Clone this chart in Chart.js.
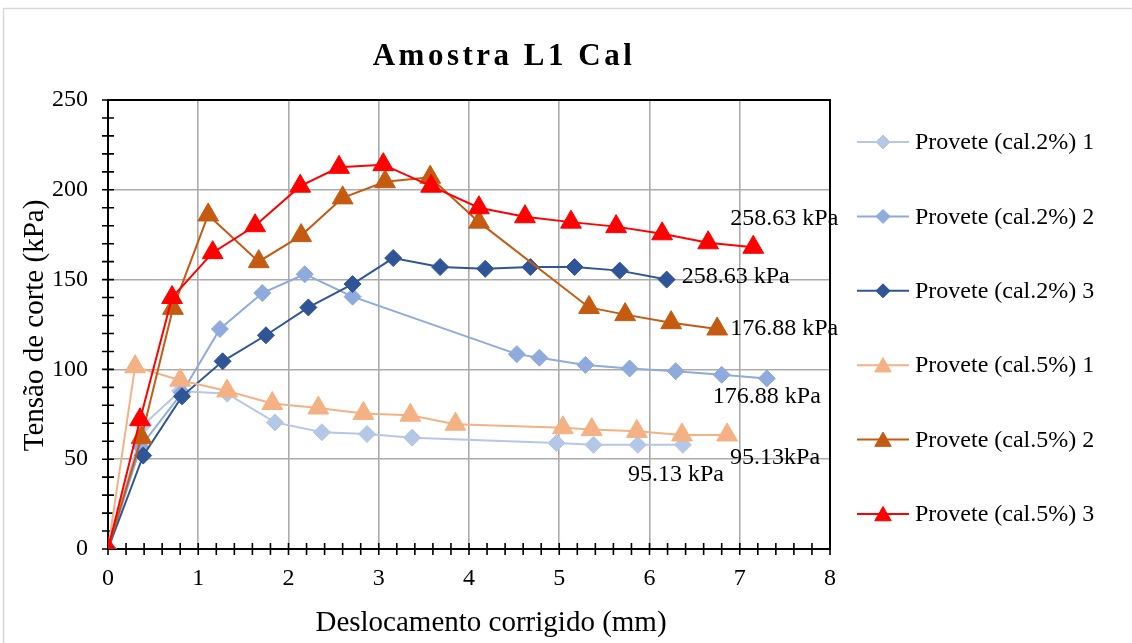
<!DOCTYPE html>
<html>
<head>
<meta charset="utf-8">
<script src="https://cdn.jsdelivr.net/npm/chart.js@4.4.1/dist/chart.umd.min.js"></script>
<style>
  html, body { margin: 0; padding: 0; background: #fff; }
  #wrap { width: 1132px; height: 643px; }
</style>
</head>
<body>
<div id="wrap"><canvas id="c" width="1132" height="643"></canvas></div>
<script>
const SERIF = "'Liberation Serif', 'Times New Roman', serif";

const chartTitle = 'Amostra L1 Cal';
const xAxisTitle = 'Deslocamento corrigido (mm)';
const yAxisTitle = 'Tensão de corte (kPa)';

const seriesNames = [
  'Provete (cal.2%) 1', 'Provete (cal.2%) 2', 'Provete (cal.2%) 3',
  'Provete (cal.5%) 1', 'Provete (cal.5%) 2', 'Provete (cal.5%) 3'
];
// normal stress written next to the last point of each test
const normalStress = ['95.13 kPa', '176.88 kPa', '258.63 kPa', '95.13kPa', '176.88 kPa', '258.63 kPa'];

// displacement (mm) / shear stress (kPa)
const cal2_1X = [0, 0.39, 0.80, 1.32, 1.85, 2.37, 2.87, 3.37, 4.97, 5.38, 5.87, 6.37];
const cal2_1Y = [0, 69, 88, 86.5, 70.5, 65, 64, 62, 59, 58, 58, 58];

const cal2_2X = [0, 0.36, 0.82, 1.24, 1.71, 2.18, 2.71, 4.53, 4.78, 5.29, 5.78, 6.29, 6.80, 7.30];
const cal2_2Y = [0, 57, 87, 122.5, 142.5, 153, 140.5, 108.5, 106.5, 102.5, 100.5, 99, 97, 95];

const cal2_3X = [0, 0.39, 0.82, 1.27, 1.75, 2.22, 2.71, 3.16, 3.68, 4.18, 4.68, 5.17, 5.67, 6.19];
const cal2_3Y = [0, 52, 85, 104.5, 119, 134.5, 147.5, 162, 157, 156, 157, 157, 155, 150];

const cal5_1X = [0, 0.30, 0.80, 1.32, 1.82, 2.33, 2.83, 3.35, 3.85, 5.04, 5.36, 5.86, 6.36, 6.86];
const cal5_1Y = [0, 101.5, 94, 88, 81, 78.5, 75.5, 74.5, 69.5, 67.5, 66.5, 65.5, 63.5, 63.5];

const cal5_2X = [0, 0.37, 0.72, 1.11, 1.67, 2.14, 2.60, 3.07, 3.57, 4.11, 5.33, 5.73, 6.24, 6.75];
const cal5_2Y = [0, 62, 134, 186, 160, 174.5, 195.5, 204.5, 207, 182, 134.5, 130.5, 126, 122.5];

const cal5_3X = [0, 0.355, 0.71, 1.16, 1.63, 2.13, 2.56, 3.05, 3.58, 4.11, 4.62, 5.13, 5.63, 6.14, 6.65, 7.15];
const cal5_3Y = [0, 72, 140, 165, 180, 202, 212.5, 214, 202, 190, 185, 182, 179.5, 175.5, 170.5, 168];

const xTickLabels = ['0', '1', '2', '3', '4', '5', '6', '7', '8'];
const yTickLabels = ['0', '50', '100', '150', '200', '250'];

// styling
const colors = ['#B4C7E7', '#8FAADC', '#2F5597', '#F4B183', '#C55A11', '#FF0000'];
const markers = ['rectRot', 'rectRot', 'rectRot', 'triangle', 'triangle', 'triangle'];
const markerRadius = { rectRot: 8.5, triangle: 12 };
const legendRadius = { rectRot: 7, triangle: 9.5 };
const labelOffsets = [[-55, 30], [-54, 18], [15, -3], [3, 23], [13, 0], [-23, -29]];

const xs = [cal2_1X, cal2_2X, cal2_3X, cal5_1X, cal5_2X, cal5_3X];
const ys = [cal2_1Y, cal2_2Y, cal2_3Y, cal5_1Y, cal5_2Y, cal5_3Y];

const datasets = seriesNames.map((name, i) => ({
  label: name,
  data: xs[i].map((x, k) => ({ x: x, y: ys[i][k] })),
  showLine: true,
  borderColor: colors[i],
  backgroundColor: colors[i],
  borderWidth: 2,
  tension: 0,
  pointStyle: markers[i],
  pointRadius: markerRadius[markers[i]],
  pointHoverRadius: markerRadius[markers[i]],
  pointBorderWidth: 1,
  pointBorderColor: colors[i],
  pointBackgroundColor: colors[i],
  order: seriesNames.length - i
}));

const isWhole = v => Math.abs(v - Math.round(v)) < 1e-6;

// outer chart frame, plot frame, crossing tick marks, value notes, title and legend
const framePlugin = {
  id: 'frame',
  beforeDraw(chart) {
    const ctx = chart.ctx;
    ctx.save();
    ctx.fillStyle = '#fff';
    ctx.fillRect(0, 0, chart.width, chart.height);
    ctx.strokeStyle = '#D9D9D9';
    ctx.lineWidth = 1.5;
    ctx.strokeRect(3.5, 8.5, chart.width + 20, chart.height + 20);
    ctx.restore();
  },
  beforeDatasetsDraw(chart) {
    const { ctx, chartArea: a, scales } = chart;
    ctx.save();
    ctx.strokeStyle = '#000';
    ctx.lineWidth = 2;
    ctx.strokeRect(a.left, a.top, a.right - a.left, a.bottom - a.top);
    ctx.lineWidth = 1.6;
    ctx.beginPath();
    scales.y.ticks.forEach(t => {
      const py = scales.y.getPixelForValue(t.value);
      ctx.moveTo(a.left - 6, py);
      ctx.lineTo(a.left + 6, py);
    });
    scales.x.ticks.forEach(t => {
      const px = scales.x.getPixelForValue(t.value);
      ctx.moveTo(px, a.bottom - 6);
      ctx.lineTo(px, a.bottom + 6);
    });
    ctx.stroke();
    ctx.restore();
  },
  afterDatasetsDraw(chart) {
    const ctx = chart.ctx;
    ctx.save();
    ctx.fillStyle = '#000';
    ctx.font = '24px ' + SERIF;
    ctx.textAlign = 'left';
    ctx.textBaseline = 'middle';
    chart.data.datasets.forEach((ds, i) => {
      const pts = chart.getDatasetMeta(i).data;
      const last = pts[pts.length - 1];
      ctx.fillText(normalStress[i], last.x + labelOffsets[i][0], last.y + labelOffsets[i][1]);
    });
    ctx.restore();
  },
  afterDraw(chart) {
    const { ctx, chartArea: a } = chart;
    ctx.save();
    ctx.fillStyle = '#000';
    // title
    ctx.font = 'bold 31px ' + SERIF;
    ctx.textAlign = 'center';
    ctx.textBaseline = 'alphabetic';
    if ('letterSpacing' in ctx) ctx.letterSpacing = '3.5px';
    ctx.fillText(chartTitle, 504, 65);
    if ('letterSpacing' in ctx) ctx.letterSpacing = '0px';
    // axis titles
    ctx.font = '29px ' + SERIF;
    ctx.fillText(xAxisTitle, 491, 631);
    ctx.save();
    ctx.translate(43, (a.top + a.bottom) / 2 + 1);
    ctx.rotate(-Math.PI / 2);
    ctx.fillText(yAxisTitle, 0, 0);
    ctx.restore();
    // legend
    ctx.font = '24px ' + SERIF;
    ctx.textAlign = 'left';
    ctx.textBaseline = 'middle';
    chart.data.datasets.forEach((ds, i) => {
      const cy = 142 + i * 74.4;
      ctx.strokeStyle = colors[i];
      ctx.fillStyle = colors[i];
      ctx.lineWidth = 2;
      ctx.beginPath();
      ctx.moveTo(857, cy);
      ctx.lineTo(909, cy);
      ctx.stroke();
      ctx.lineWidth = 1;
      Chart.helpers.drawPoint(ctx, {
        pointStyle: markers[i],
        radius: legendRadius[markers[i]],
        rotation: 0,
        borderWidth: 1
      }, 883, markers[i] === 'triangle' ? cy + 2 : cy);
      ctx.fillStyle = '#000';
      ctx.fillText(seriesNames[i], 915, cy + 1);
    });
    ctx.restore();
  }
};

new Chart(document.getElementById('c'), {
  type: 'scatter',
  data: { datasets },
  options: {
    responsive: false,
    animation: false,
    devicePixelRatio: 1,
    layout: { padding: { left: 0, right: 302, top: 100, bottom: 0 } },
    plugins: {
      legend: { display: false },
      title: { display: false },
      tooltip: { enabled: false }
    },
    scales: {
      x: {
        type: 'linear',
        min: 0, max: 8,
        afterFit: s => { s.height = 94; },
        border: { display: false },
        grid: {
          drawTicks: false,
          color: c => (c.tick && isWhole(c.tick.value)) ? '#ABABAB' : 'rgba(0,0,0,0)',
          lineWidth: 1.6
        },
        ticks: {
          stepSize: 0.2,
          autoSkip: false,
          maxRotation: 0,
          padding: 15,
          color: '#000',
          font: { family: SERIF, size: 24 },
          callback: v => isWhole(v) ? xTickLabels[Math.round(v)] : ''
        },
        title: { display: false }
      },
      y: {
        type: 'linear',
        min: 0, max: 250,
        afterFit: s => { s.width = 108; },
        border: { display: false },
        grid: {
          drawTicks: false,
          color: c => (c.tick && c.tick.value % 50 === 0) ? '#ABABAB' : 'rgba(0,0,0,0)',
          lineWidth: 1.6
        },
        ticks: {
          stepSize: 10,
          autoSkip: false,
          padding: 20,
          color: '#000',
          font: { family: SERIF, size: 24 },
          callback: v => v % 50 === 0 ? yTickLabels[v / 50] : ''
        },
        title: { display: false }
      }
    }
  },
  plugins: [framePlugin]
});
</script>
</body>
</html>
